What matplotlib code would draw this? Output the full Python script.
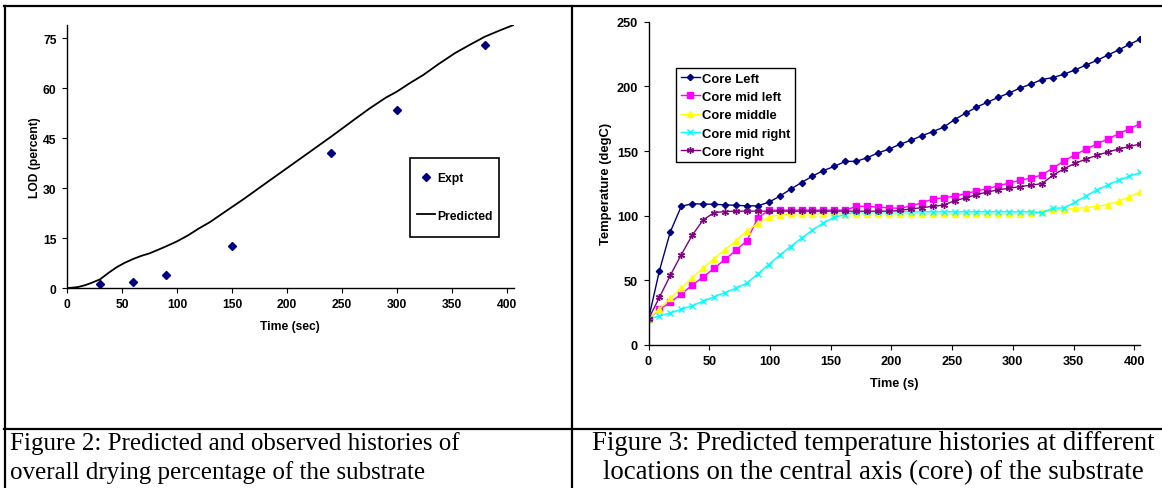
import numpy as np
import matplotlib
matplotlib.use("Agg")
import matplotlib.pyplot as plt
from matplotlib.lines import Line2D
from matplotlib.patches import Rectangle

W, H = 1162, 489

# ---- Figure 2 data: drying percentage
expt_time = [30, 60, 90, 150, 240, 300, 380]
expt_lod = [1.1, 1.9, 3.9, 12.7, 40.7, 53.6, 73.0]

pred_time = [0, 5, 10, 16, 22, 30, 38, 45, 52, 60, 68, 75, 83, 90, 100, 110,
             120, 130, 145, 161, 180, 200, 220, 242, 260, 275, 290, 300, 312,
             324, 338, 353, 366, 380, 393, 406]
pred_lod = [0, 0.1, 0.3, 0.8, 1.5, 2.6, 4.6, 6.2, 7.5, 8.7, 9.7, 10.4, 11.5,
            12.5, 14.0, 15.8, 17.9, 19.8, 23.2, 26.8, 31.3, 36.0, 40.7, 45.9,
            50.3, 53.9, 57.2, 59.0, 61.6, 64.0, 67.3, 70.6, 73.0, 75.5, 77.3, 79.0]

# ---- Figure 3 data: core temperatures
time_s = [0, 9, 18, 27, 36, 45, 54, 63, 72, 81, 90, 99, 108, 117, 126, 135,
          144, 153, 162, 171, 180, 189, 198, 207, 216, 225, 234, 243, 252,
          261, 270, 279, 288, 297, 306, 315, 324, 333, 342, 351, 360, 369,
          378, 387, 396, 405]

core_left = [20, 57.5, 87.6, 107.3, 109.2, 109.0, 108.8, 108.4, 108.0, 107.6,
             107.6, 110.4, 115.0, 120.5, 125.6, 130.6, 134.9, 138.1, 142.0,
             142.0, 144.8, 148.5, 151.5, 155.2, 158.3, 161.8, 165.0, 168.4,
             174.3, 179.2, 183.9, 187.7, 191.5, 194.9, 198.7, 201.8, 205.3,
             206.8, 209.4, 212.6, 216.4, 220.0, 224.1, 228.1, 232.5, 236.5]
core_mid_left = [20, 27.5, 33.0, 39.5, 46.3, 52.6, 59.3, 66.2, 73.2, 80.7,
                 98.3, 104.2, 104.3, 104.3, 104.3, 104.3, 104.3, 104.3, 104.3,
                 107.2, 107.2, 106.7, 106.0, 105.7, 107.5, 110.0, 112.8, 113.9,
                 115.1, 117.1, 119.0, 121.0, 123.1, 125.3, 127.3, 129.2, 131.5,
                 136.9, 142.2, 147.0, 151.3, 155.4, 159.2, 163.3, 167.2, 171.2]
core_middle = [20, 27.9, 36.1, 44.1, 51.9, 59.4, 66.6, 73.8, 80.7, 88.0, 94.2,
               98.8, 100.9, 101.3, 101.5, 101.5, 101.5, 101.5, 101.5, 101.5,
               101.5, 101.5, 101.5, 101.5, 101.5, 101.5, 101.5, 101.5, 101.5,
               101.5, 101.5, 101.5, 101.5, 101.5, 101.6, 101.8, 103.2, 104.5,
               104.6, 105.7, 106.2, 107.2, 108.5, 111.0, 114.7, 118.3]
core_mid_right = [20.1, 22.4, 24.8, 27.6, 30.4, 33.8, 37.2, 40.5, 43.9, 47.8,
                  55.0, 62.2, 69.4, 76.1, 82.6, 88.8, 94.4, 98.8, 100.9, 103.0,
                  103.0, 103.0, 103.0, 103.0, 103.0, 103.0, 103.0, 103.0, 103.0,
                  103.0, 103.0, 103.0, 103.0, 103.0, 103.0, 103.0, 102.3, 105.9,
                  105.9, 110.3, 115.1, 119.8, 123.6, 127.4, 130.5, 133.4]
core_right = [20, 36.9, 53.9, 69.9, 84.9, 96.7, 102.4, 103.2, 103.5, 103.5,
              103.5, 103.5, 103.5, 103.5, 103.5, 103.5, 103.5, 103.5, 103.5,
              103.5, 103.5, 103.5, 103.5, 104.1, 105.2, 106.2, 107.2, 108.2,
              111.6, 113.7, 116.3, 118.3, 120.0, 121.2, 122.5, 123.6, 124.8,
              131.2, 136.3, 140.4, 143.7, 146.6, 149.2, 151.5, 153.6, 155.4]

series_names = ["Core Left", "Core mid left", "Core middle", "Core mid right", "Core right"]
series_colors = ["#000080", "#FF00FF", "#FFFF00", "#00FFFF", "#800080"]
series_markers = ["D", "s", "^", "x", (6, 2, 0)]
series_msize = [3.2, 4.3, 5.0, 4.5, 5.0]

caption_left = ["Figure 2: Predicted and observed histories of",
                "overall drying percentage of the substrate"]
caption_right = ["Figure 3: Predicted temperature histories at different",
                 "locations on the central axis (core) of the substrate"]

plt.rcParams.update({
    "font.family": "Liberation Sans",
    "font.weight": "bold",
    "axes.linewidth": 1.0,
    "xtick.direction": "out",
    "ytick.direction": "out",
    "xtick.major.size": 3.5,
    "ytick.major.size": 3.5,
})


def fx(px):
    return px / W


def fy(py):
    return 1 - py / H


fig = plt.figure(figsize=(W / 100, H / 100), dpi=100)

# ---------- left chart
ax1 = fig.add_axes([fx(67), fy(289), fx(513.5) - fx(67), fy(26) - fy(289)])
ax1.plot(expt_time, expt_lod, linestyle="none", marker="D", markersize=4.0,
         color="#000080", label="Expt")
ax1.plot(pred_time, pred_lod, color="black", lw=1.3, label="Predicted")
ax1.set_xlim(0, 406)
ax1.set_ylim(0, 79)
ax1.set_xticks([0, 50, 100, 150, 200, 250, 300, 350, 400])
ax1.set_yticks([0, 15, 30, 45, 60, 75])
ax1.tick_params(labelsize=8.7, pad=4)
for lab in ax1.get_xticklabels() + ax1.get_yticklabels():
    lab.set_fontweight("bold")
ax1.spines["top"].set_visible(False)
ax1.spines["right"].set_visible(False)
ax1.set_xlabel("Time (sec)", fontsize=8.7, fontweight="bold", labelpad=7)
ax1.set_ylabel("LOD (percent)", fontsize=8.7, fontweight="bold", labelpad=1.5)
# legend entries without frame, frame drawn as a separate box (Excel style padding)
ax1.legend(loc="upper left", bbox_to_anchor=(fx(416.7), fy(173.3)),
           bbox_transform=fig.transFigure, borderaxespad=0, frameon=False,
           prop={"size": 8.7, "weight": "bold"}, handlelength=1.5,
           handletextpad=0.2, labelspacing=2.1, borderpad=0)
fig.add_artist(Rectangle((fx(410), fy(238.3)), fx(499.5) - fx(410),
                         fy(159.3) - fy(238.3), transform=fig.transFigure,
                         fill=False, edgecolor="black", lw=1.2))

# ---------- right chart
ax2 = fig.add_axes([fx(648.5), fy(346), fx(1140.4) - fx(648.5), fy(22.7) - fy(346)])
for vals, name, col, mk, ms in zip(
        [core_left, core_mid_left, core_middle, core_mid_right, core_right],
        series_names, series_colors, series_markers, series_msize):
    ax2.plot(time_s, vals, color=col, lw=1.0, marker=mk, markersize=ms,
             markeredgewidth=1.0, label=name)
ax2.set_xlim(0, 405)
ax2.set_ylim(0, 250)
ax2.set_xticks([0, 50, 100, 150, 200, 250, 300, 350, 400])
ax2.set_yticks([0, 50, 100, 150, 200, 250])
ax2.tick_params(labelsize=9.2, pad=4)
for lab in ax2.get_xticklabels() + ax2.get_yticklabels():
    lab.set_fontweight("bold")
ax2.spines["top"].set_visible(False)
ax2.spines["right"].set_visible(False)
ax2.set_xlabel("Time (s)", fontsize=9.2, fontweight="bold", labelpad=7)
ax2.set_ylabel("Temperature (degC)", fontsize=9.4, fontweight="bold", labelpad=3.7)
leg2 = ax2.legend(loc="upper left", bbox_to_anchor=(fx(676), fy(69)),
                  bbox_transform=fig.transFigure, borderaxespad=0,
                  fancybox=False, framealpha=1, edgecolor="black",
                  prop={"size": 9.4, "weight": "bold"}, handlelength=1.5,
                  handletextpad=0.15, labelspacing=0.47, borderpad=0.35)
leg2.get_frame().set_linewidth(1.0)

# ---------- table borders
border = dict(color="black", lw=1.6, transform=fig.transFigure)
fig.add_artist(Line2D([fx(4), 1], [fy(7), fy(7)], **border))
fig.add_artist(Line2D([fx(4), 1], [fy(430), fy(430)], **border))
fig.add_artist(Line2D([fx(4.5), fx(4.5)], [fy(7), 0], **border))
fig.add_artist(Line2D([fx(572), fx(572)], [fy(7), 0], **border))

# ---------- captions
cap = dict(family="Liberation Serif", fontweight="normal")
for i, line in enumerate(caption_left):
    fig.text(fx(10), fy(444 + 29 * i), line, ha="left", va="center",
             fontsize=18.0, **cap)
for i, line in enumerate(caption_right):
    fig.text(fx(873), fy(444 + 29 * i), line, ha="center", va="center",
             fontsize=19.35, **cap)

fig.savefig("out.png", dpi=100)
